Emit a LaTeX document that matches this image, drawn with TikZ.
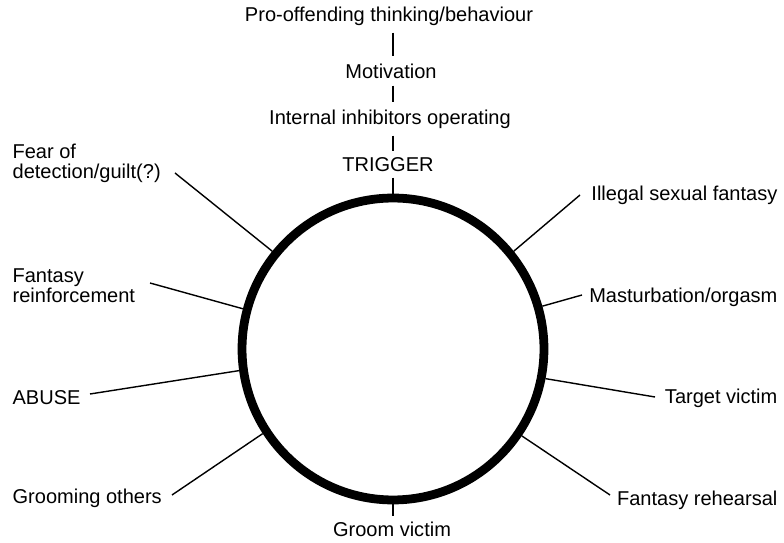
\documentclass[tikz,border=0pt]{standalone}
\usepackage{fontspec}
\setmainfont{Liberation Sans}
\usetikzlibrary{positioning}
\tikzset{
	stage/.style={font=\fontsize{11.4}{11.5}\selectfont, inner sep=3pt},
	sidelabel/.style={stage, align=left},
	spoke/.style={color=black, line width=0.8pt},
	chain/.style={color=black, line width=0.8pt, shorten <=1pt, shorten >=1pt},
	ring/.style={circle, draw, line width=5pt, minimum size=6.04cm, inner sep=0pt}
}
\begin{document}
\begin{tikzpicture}[x=0.02cm,y=-0.02cm]
				\useasboundingbox (0,0) rectangle (784,543);
				%%%% the cycle
				\node[ring] (cyc) at (393,349) {};
				
				%%%% chain above the cycle
				\node[stage] (pro) at (389,16) {Pro-offending thinking/behaviour};
				\node[stage] (mot) at (391,71) {Motivation};
				\node[stage] (inh) at (390,119) {Internal inhibitors operating};
				\node[stage] (trig) at (388,165) {TRIGGER};
				\draw[chain] (pro.south -| cyc) -- (mot.north -| cyc);
				\draw[chain] (mot.south -| cyc) -- (inh.north -| cyc);
				\draw[chain] (inh.south -| cyc) -- (trig.north -| cyc);
				\draw[spoke] (trig.south -| cyc) -- (cyc.90);
				
				%%%% groom victim
				\node[stage] (groomv) at (392,529) {Groom victim};
				\draw[spoke] (cyc.270) -- (groomv.north -| cyc);
				
				%%%% left side
				\node[sidelabel,anchor=west] (fear) at (7,163) {Fear of\\detection/guilt(?)};
				\node[sidelabel,anchor=west] (reinf) at (7,286) {Fantasy\\reinforcement};
				\node[sidelabel,anchor=west] (abuse) at (7,398) {ABUSE};
				\node[sidelabel,anchor=west] (groomo) at (7,498) {Grooming others};
				\coordinate (fearend) at (175,173);
				\coordinate (reinfend) at (150,283);
				\coordinate (abuseend) at (90,394);
				\coordinate (groomoend) at (172,495);
				\draw[spoke] (fearend) -- (cyc.141);
				\draw[spoke] (reinfend) -- (cyc.165);
				\draw[spoke] (abuseend) -- (cyc.188);
				\draw[spoke] (groomoend) -- (cyc.213);
				
				%%%% right side
				\node[sidelabel,anchor=east] (illegal) at (783,195) {Illegal sexual fantasy};
				\node[sidelabel,anchor=east] (mast) at (783,297) {Masturbation/orgasm};
				\node[sidelabel,anchor=east] (target) at (783,398) {Target victim};
				\node[sidelabel,anchor=east] (rehearse) at (783,500) {Fantasy rehearsal};
				\coordinate (illegalend) at (580,195);
				\coordinate (mastend) at (582,295);
				\coordinate (targetend) at (655,397);
				\coordinate (rehearseend) at (610,495);
				\draw[spoke] (illegalend) -- (cyc.39);
				\draw[spoke] (mastend) -- (cyc.16);
				\draw[spoke] (targetend) -- (cyc.349);
				\draw[spoke] (rehearseend) -- (cyc.326);
		\end{tikzpicture}
\end{document}
